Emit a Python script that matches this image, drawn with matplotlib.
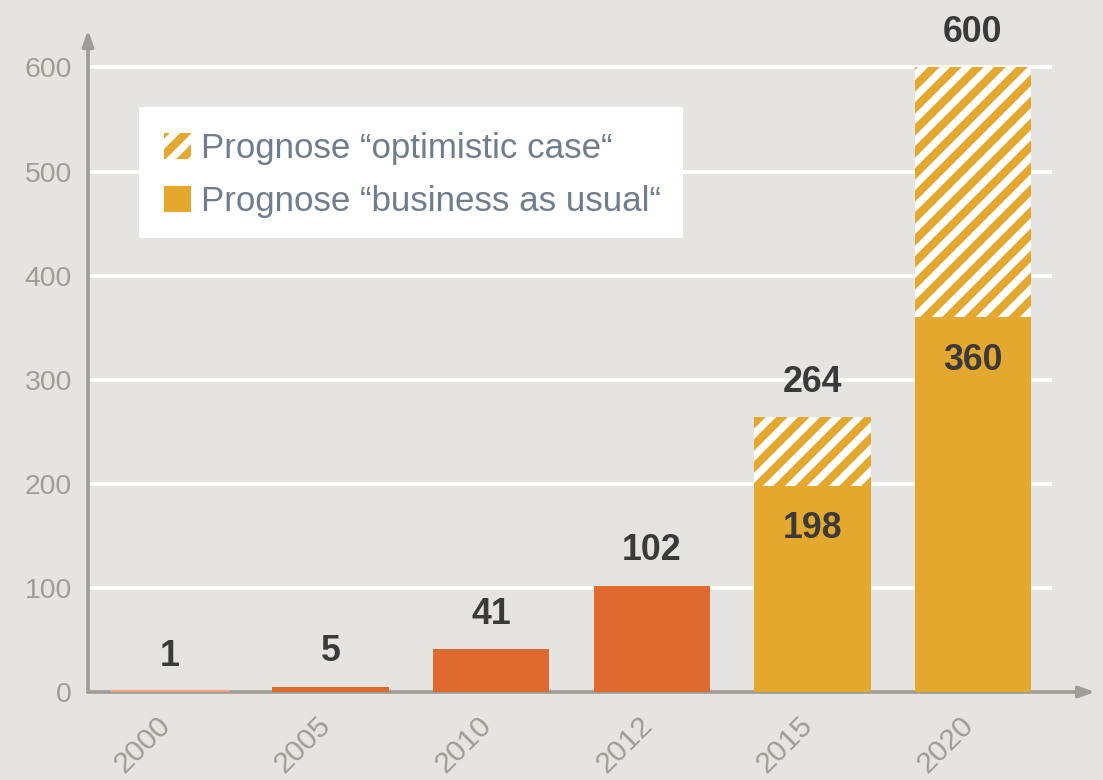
"""Bar chart: installed capacity by year, with two forecast scenarios."""

import matplotlib
matplotlib.use('Agg')
import matplotlib.pyplot as plt
import matplotlib.transforms as mtransforms
from matplotlib.patches import Patch, Rectangle

years = ['2000', '2005', '2010', '2012', '2015', '2020']
historic = [1, 5, 41, 102]
forecast_years = ['2015', '2020']
business_as_usual = [198, 360]
optimistic_case = [264, 600]
y_ticks = [0, 100, 200, 300, 400, 500, 600]

BG = '#E6E4E0'
ORANGE = '#DF6A2F'
PALE_ORANGE = '#EFA67A'
YELLOW = '#E5A82F'
AXIS = '#A09C98'
LABEL = '#3A3A3A'
LEGEND_TEXT = '#6F7E8C'

DPI = 132
plt.rcParams['font.family'] = ['Liberation Sans', 'DejaVu Sans']
plt.rcParams['hatch.linewidth'] = 4.0

fig = plt.figure(figsize=(1103 / DPI, 780 / DPI), dpi=DPI, facecolor=BG)
ax = fig.add_axes([88 / 1103, 88 / 780, 1007 / 1103, 662 / 780])
ax.set_facecolor(BG)

x_pos = {y: i for i, y in enumerate(years)}
width = 0.725

ax.set_xlim(-0.51, 5.76)
ax.set_ylim(0, 636)

# white gridlines, stopping short of the x-axis arrow
ax.hlines(y_ticks[1:], -0.51, 5.49, color='white', linewidth=2, zorder=0)

# historic values; the tiny 2000 bar gets a thin outline so it stays visible
hx = [x_pos[y] for y in years[:len(historic)]]
h_colors = [PALE_ORANGE, ORANGE, ORANGE, ORANGE]
ax.bar(hx, historic, width=width, color=h_colors, edgecolor=h_colors,
       linewidth=[1.8, 0, 0, 0], zorder=5)

# forecasts: business as usual plus the optimistic extra on top
fx = [x_pos[y] for y in forecast_years]
ax.bar(fx, business_as_usual, width=width, color=YELLOW, zorder=5)
extra = [o - b for o, b in zip(optimistic_case, business_as_usual)]
ax.bar(fx, extra, bottom=business_as_usual, width=width, color=YELLOW,
       edgecolor='white', linewidth=0, hatch='//', zorder=5)

label_kw = dict(textcoords='offset points', ha='center', va='center',
                fontsize=19.5, fontweight='bold', color=LABEL, zorder=6)
for xi, v in zip(hx, historic):
    ax.annotate(f'{v}', xy=(xi, v), xytext=(0, 19), **label_kw)
for xi, v in zip(fx, optimistic_case):
    ax.annotate(f'{v}', xy=(xi, v), xytext=(0, 19), **label_kw)
for xi, v in zip(fx, business_as_usual):
    ax.annotate(f'{v}', xy=(xi, v), xytext=(0, -23.5), **label_kw)

# axes with arrow heads
for s in ax.spines.values():
    s.set_visible(False)
arrow = dict(arrowstyle='-|>,head_length=0.7,head_width=0.25', color=AXIS,
             lw=2, shrinkA=0, shrinkB=0)
ax.annotate('', xy=(0, 1), xytext=(0, 0), xycoords='axes fraction',
            arrowprops=arrow, zorder=4)
ax.annotate('', xy=(1, 0), xytext=(0, 0), xycoords='axes fraction',
            arrowprops=arrow, zorder=4)

ax.set_yticks(y_ticks)
ax.set_xticks(range(len(years)), years)
ax.tick_params(axis='both', length=0, labelcolor=AXIS)
ax.tick_params(axis='y', pad=8.7, labelsize=15.5)
ax.tick_params(axis='x', pad=15.8, labelsize=16.5)
shift = mtransforms.ScaledTranslation(-4 / DPI, 0, fig.dpi_scale_trans)
for lbl in ax.get_xticklabels():
    lbl.set_rotation(45)
    lbl.set_ha('right')
    lbl.set_va('center')
    lbl.set_rotation_mode('anchor')
    lbl.set_transform(lbl.get_transform() + shift)

# legend sits on its own white panel
ax.add_patch(Rectangle((0.0506, 0.686), 0.540, 0.198, transform=ax.transAxes,
                       facecolor='white', edgecolor='none', zorder=7))
handles = [
    Patch(facecolor=YELLOW, edgecolor='white', linewidth=0, hatch='//',
          label='Prognose \u201coptimistic case\u201c'),
    Patch(facecolor=YELLOW, linewidth=0,
          label='Prognose \u201cbusiness as usual\u201c'),
]
leg = ax.legend(handles=handles, loc='upper left',
                bbox_to_anchor=(0.0755, 0.846), borderaxespad=0,
                fontsize=19, frameon=False, borderpad=0,
                handlelength=0.77, handleheight=0.77, handletextpad=0.29,
                labelspacing=0.59, labelcolor=LEGEND_TEXT)
leg.set_zorder(8)

fig.savefig('out.png', dpi=DPI, facecolor=BG)
